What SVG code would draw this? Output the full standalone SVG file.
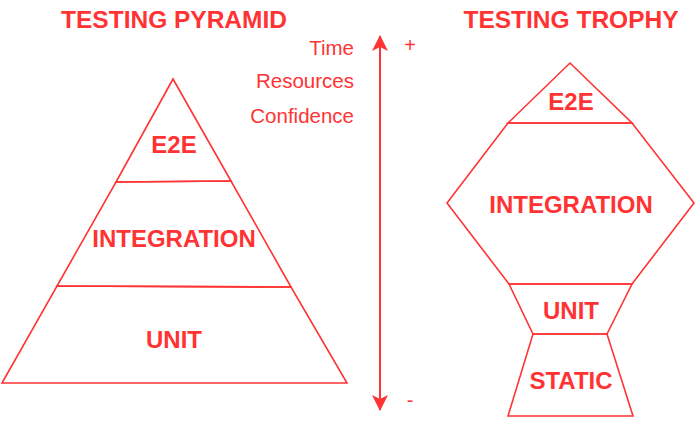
<svg xmlns="http://www.w3.org/2000/svg" width="695" height="429" viewBox="0 0 695 429">
<style>
.t{font-family:"Liberation Sans",Arial,Helvetica,sans-serif;fill:#FF3333;}
.b{font-weight:bold;text-anchor:middle;}
.h{font-size:24.5px;}
.l{font-size:24px;}
.s{font-size:20.5px;text-anchor:end;}
.shape{fill:none;stroke:#FF3333;stroke-width:1.6;stroke-linejoin:miter;}
</style>
<defs>
<marker id="ah" viewBox="0 0 16 16" refX="15" refY="8" markerWidth="16" markerHeight="16" markerUnits="userSpaceOnUse" orient="auto-start-reverse">
<path d="M0,0 L16,8 L0,16 L4,8 Z" fill="#FF3333"/>
</marker>
</defs>
<rect width="695" height="429" fill="#ffffff"/>
<text class="t b h" x="174" y="28">TESTING PYRAMID</text>
<text class="t b h" x="571" y="28">TESTING TROPHY</text>
<g id="axis-labels">
<text class="t s" x="354" y="55">Time</text>
<text class="t s" x="354" y="88">Resources</text>
<text class="t s" x="354" y="123">Confidence</text>
<text class="t" x="410" y="52" font-size="20" text-anchor="middle">+</text>
<text class="t" x="410" y="407" font-size="20" text-anchor="middle">-</text>
</g>
<g id="pyramid">
<g id="pyr-e2e">
<polygon class="shape" points="173,79 231,181 116,182"/>
<text class="t b l" x="174" y="153">E2E</text>
</g>
<g id="pyr-integration">
<polygon class="shape" points="116,182 231,181 291,287 57,286"/>
<text class="t b l" x="174" y="247">INTEGRATION</text>
</g>
<g id="pyr-unit">
<polygon class="shape" points="57,286 291,287 347,383 2,383"/>
<text class="t b l" x="174" y="348">UNIT</text>
</g>
</g>
<g id="trophy">
<g id="tro-e2e">
<polygon class="shape" points="570,63 632,123 508,123"/>
<text class="t b l" x="571" y="110">E2E</text>
</g>
<g id="tro-integration">
<polygon class="shape" points="508,123 632,123 694,203 632,284 509,284 447,203"/>
<text class="t b l" x="571" y="213">INTEGRATION</text>
</g>
<g id="tro-unit">
<polygon class="shape" points="509,284 632,284 607,334 533,334"/>
<text class="t b l" x="571" y="319">UNIT</text>
</g>
<g id="tro-static">
<polygon class="shape" points="533,334 607,334 633,416 508,416"/>
<text class="t b l" x="571" y="389">STATIC</text>
</g>
</g>
<g id="connectors">
<line x1="380" y1="36" x2="380" y2="410" stroke="#FF3333" stroke-width="2" marker-start="url(#ah)" marker-end="url(#ah)"/>
</g>
</svg>
